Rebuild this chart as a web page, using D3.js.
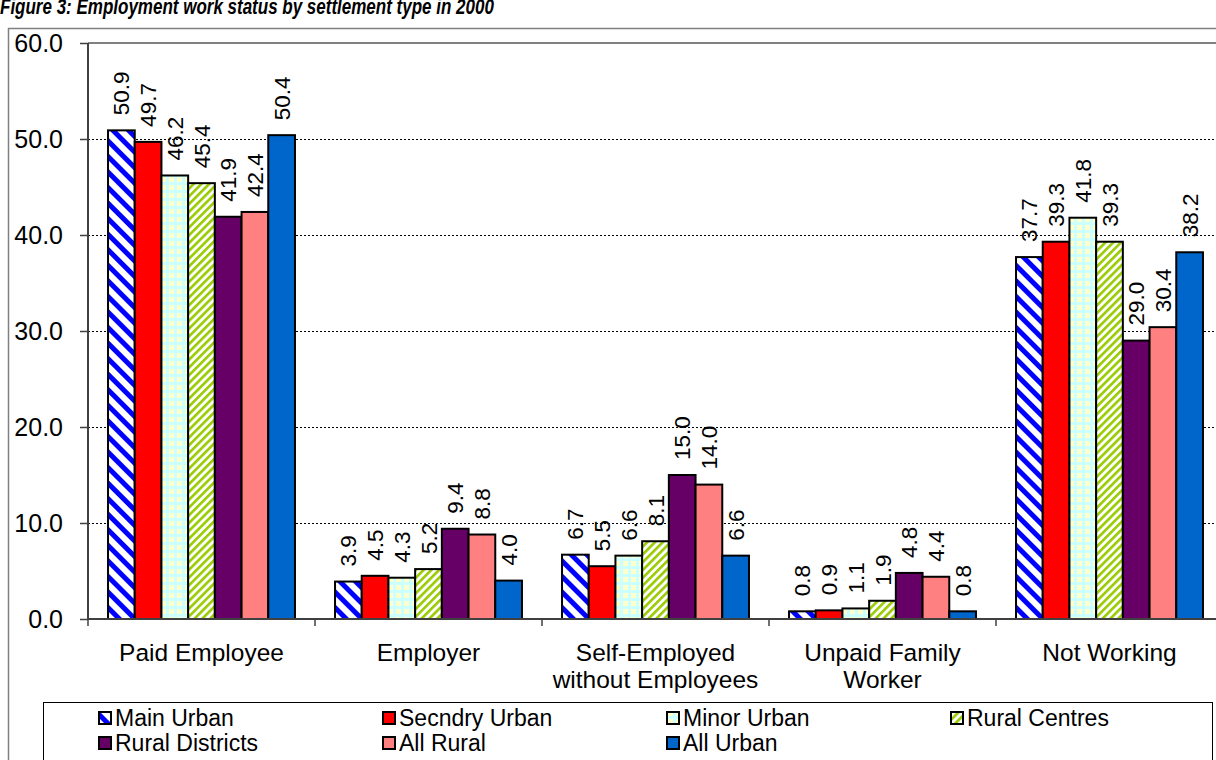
<!DOCTYPE html>
<html>
<head>
<meta charset="utf-8">
<script src="https://cdn.jsdelivr.net/npm/d3@7/dist/d3.min.js"></script>
<style>
  html, body { margin: 0; padding: 0; background: #fff; }
  svg { display: block; font-family: Arial, "Liberation Sans", sans-serif; }
</style>
</head>
<body>
<svg id="chart" width="1216" height="760"></svg>
<script>
// Employment work status by settlement type, 2000 (percent)
const categories = [
  ["Paid Employee"],
  ["Employer"],
  ["Self-Employed", "without Employees"],
  ["Unpaid Family", "Worker"],
  ["Not Working"]
];
const seriesNames = ["Main Urban", "Secndry Urban", "Minor Urban", "Rural Centres",
                     "Rural Districts", "All Rural", "All Urban"];
const mainUrban      = [50.9, 3.9, 6.7, 0.8, 37.7];
const secndryUrban   = [49.7, 4.5, 5.5, 0.9, 39.3];
const minorUrban     = [46.2, 4.3, 6.6, 1.1, 41.8];
const ruralCentres   = [45.4, 5.2, 8.1, 1.9, 39.3];
const ruralDistricts = [41.9, 9.4, 15.0, 4.8, 29.0];
const allRural       = [42.4, 8.8, 14.0, 4.4, 30.4];
const allUrban       = [50.4, 4.0, 6.6, 0.8, 38.2];
const yTicks = [0, 10, 20, 30, 40, 50, 60];

const seriesValues = [mainUrban, secndryUrban, minorUrban, ruralCentres,
                      ruralDistricts, allRural, allUrban];
const fills = ["url(#pMainUrban)", "#FF0000", "url(#pMinorUrban)", "url(#pRuralCentres)",
               "#660066", "#FF8080", "#0066CC"];

const svg = d3.select("#chart");
const defs = svg.append("defs");

// diagonal blue stripes, running down to the right
const p1 = defs.append("pattern").attr("id", "pMainUrban")
  .attr("patternUnits", "userSpaceOnUse").attr("width", 11).attr("height", 11)
  .attr("patternTransform", "rotate(-45)");
p1.append("rect").attr("width", 11).attr("height", 11).attr("fill", "#fff");
p1.append("rect").attr("width", 5).attr("height", 11).attr("fill", "#0000FF");

// light yellow cells on a pale cyan grid
const p3 = defs.append("pattern").attr("id", "pMinorUrban")
  .attr("patternUnits", "userSpaceOnUse").attr("width", 8).attr("height", 8);
p3.append("rect").attr("width", 8).attr("height", 8).attr("fill", "#CCFFFF");
p3.append("rect").attr("x", 1).attr("y", 1).attr("width", 5).attr("height", 5).attr("fill", "#FFFFCC");

// thin green stripes, running up to the right
const p4 = defs.append("pattern").attr("id", "pRuralCentres")
  .attr("patternUnits", "userSpaceOnUse").attr("width", 5.5).attr("height", 5.5)
  .attr("patternTransform", "rotate(45)");
p4.append("rect").attr("width", 5.5).attr("height", 5.5).attr("fill", "#fff");
p4.append("rect").attr("width", 2.6).attr("height", 5.5).attr("fill", "#99CC00");

// title (runs off the top edge)
svg.append("text")
  .attr("transform", "translate(0,14) scale(1,1.25)")
  .attr("font-size", 17).attr("font-weight", "bold").attr("font-style", "italic")
  .text("Figure 3: Employment work status by settlement type in 2000");

// outer chart frame
svg.append("rect")
  .attr("x", 8.5).attr("y", 28.5).attr("width", 1300).attr("height", 900)
  .attr("fill", "none").attr("stroke", "#808080").attr("stroke-width", 1.5);

const plot = { left: 88, right: 1223, top: 43, bottom: 619 };

const x0 = d3.scaleBand()
  .domain(d3.range(categories.length))
  .range([plot.left, plot.right])
  .paddingInner(0).paddingOuter(0);

const x1 = d3.scaleBand()
  .domain(d3.range(seriesNames.length))
  .range([0, x0.bandwidth()])
  .paddingInner(0).paddingOuter(0.75);

const y = d3.scaleLinear().domain([0, 60]).range([plot.bottom, plot.top]);

// dotted gridlines
svg.append("g").selectAll("line")
  .data(yTicks.filter(t => t > 0 && t < 60))
  .join("line")
  .attr("x1", plot.left).attr("x2", plot.right)
  .attr("y1", d => Math.round(y(d)) + 0.5).attr("y2", d => Math.round(y(d)) + 0.5)
  .attr("stroke", "#000").attr("stroke-width", 1).attr("stroke-dasharray", "2,2");

// plot area top border
svg.append("line")
  .attr("x1", plot.left).attr("x2", plot.right)
  .attr("y1", y(60)).attr("y2", y(60))
  .attr("stroke", "#808080").attr("stroke-width", 2);

// bars
const groups = svg.append("g").selectAll("g")
  .data(categories.map((c, i) => i))
  .join("g")
  .attr("transform", i => `translate(${x0(i)},0)`);

groups.selectAll("rect")
  .data(i => seriesValues.map((vals, s) => ({ s, v: vals[i] })))
  .join("rect")
  .attr("x", d => x1(d.s))
  .attr("y", d => y(d.v))
  .attr("width", x1.bandwidth())
  .attr("height", d => y(0) - y(d.v))
  .attr("fill", d => fills[d.s])
  .attr("stroke", "#000").attr("stroke-width", 2);

// rotated value labels
groups.selectAll("text")
  .data(i => seriesValues.map((vals, s) => ({ s, v: vals[i] })))
  .join("text")
  .attr("transform", d => `translate(${x1(d.s) + x1.bandwidth() / 2},${y(d.v) - 15}) rotate(-90)`)
  .attr("dy", "0.36em")
  .attr("font-size", 22.5)
  .attr("text-anchor", "start")
  .text(d => d3.format(".1f")(d.v));

// y axis
const yAxis = d3.axisLeft(y).tickValues(yTicks).tickFormat(d3.format(".1f")).tickSize(8).tickPadding(17);
const gy = svg.append("g").attr("transform", `translate(${plot.left},0)`).call(yAxis);
gy.select(".domain").attr("stroke", "#404040").attr("stroke-width", 2).attr("d", `M0,${plot.top}V${plot.bottom}`);
gy.selectAll(".tick line").attr("stroke", "#404040").attr("stroke-width", 1.5);
gy.selectAll(".tick text").attr("font-size", 25).attr("fill", "#000")
  .attr("font-family", "Arial, 'Liberation Sans', sans-serif");

// x axis line and category separators
svg.append("line")
  .attr("x1", plot.left).attr("x2", plot.right)
  .attr("y1", plot.bottom).attr("y2", plot.bottom)
  .attr("stroke", "#404040").attr("stroke-width", 2);
svg.append("g").selectAll("line")
  .data(d3.range(categories.length + 1))
  .join("line")
  .attr("x1", i => plot.left + i * x0.step()).attr("x2", i => plot.left + i * x0.step())
  .attr("y1", plot.bottom).attr("y2", plot.bottom + 7)
  .attr("stroke", "#404040").attr("stroke-width", 1.5);

// category labels
const catText = svg.append("g").selectAll("text")
  .data(categories.map((c, i) => ({ c, i })))
  .join("text")
  .attr("x", d => x0(d.i) + x0.bandwidth() / 2)
  .attr("y", 661)
  .attr("text-anchor", "middle")
  .attr("font-size", 24.5);
catText.selectAll("tspan")
  .data(d => d.c.map(line => ({ line, x: x0(d.i) + x0.bandwidth() / 2 })))
  .join("tspan")
  .attr("x", d => d.x)
  .attr("dy", (d, j) => j === 0 ? 0 : 27)
  .text(d => d.line);

// legend
svg.append("rect")
  .attr("x", 43.5).attr("y", 702.5).attr("width", 1212 - 43).attr("height", 100)
  .attr("fill", "#fff").attr("stroke", "#000").attr("stroke-width", 1);

const legend = svg.append("g").selectAll("g")
  .data(seriesNames.map((name, s) => ({ name, s })))
  .join("g")
  .attr("transform", d => `translate(${99 + (d.s % 4) * 284},${718 + Math.floor(d.s / 4) * 25})`);
legend.append("rect")
  .attr("x", 0).attr("y", -6).attr("width", 12).attr("height", 12)
  .attr("fill", d => fills[d.s]).attr("stroke", "#000").attr("stroke-width", 2);
legend.append("text")
  .attr("x", 16).attr("dy", "0.36em")
  .attr("font-size", 23)
  .text(d => d.name);
</script>
</body>
</html>
